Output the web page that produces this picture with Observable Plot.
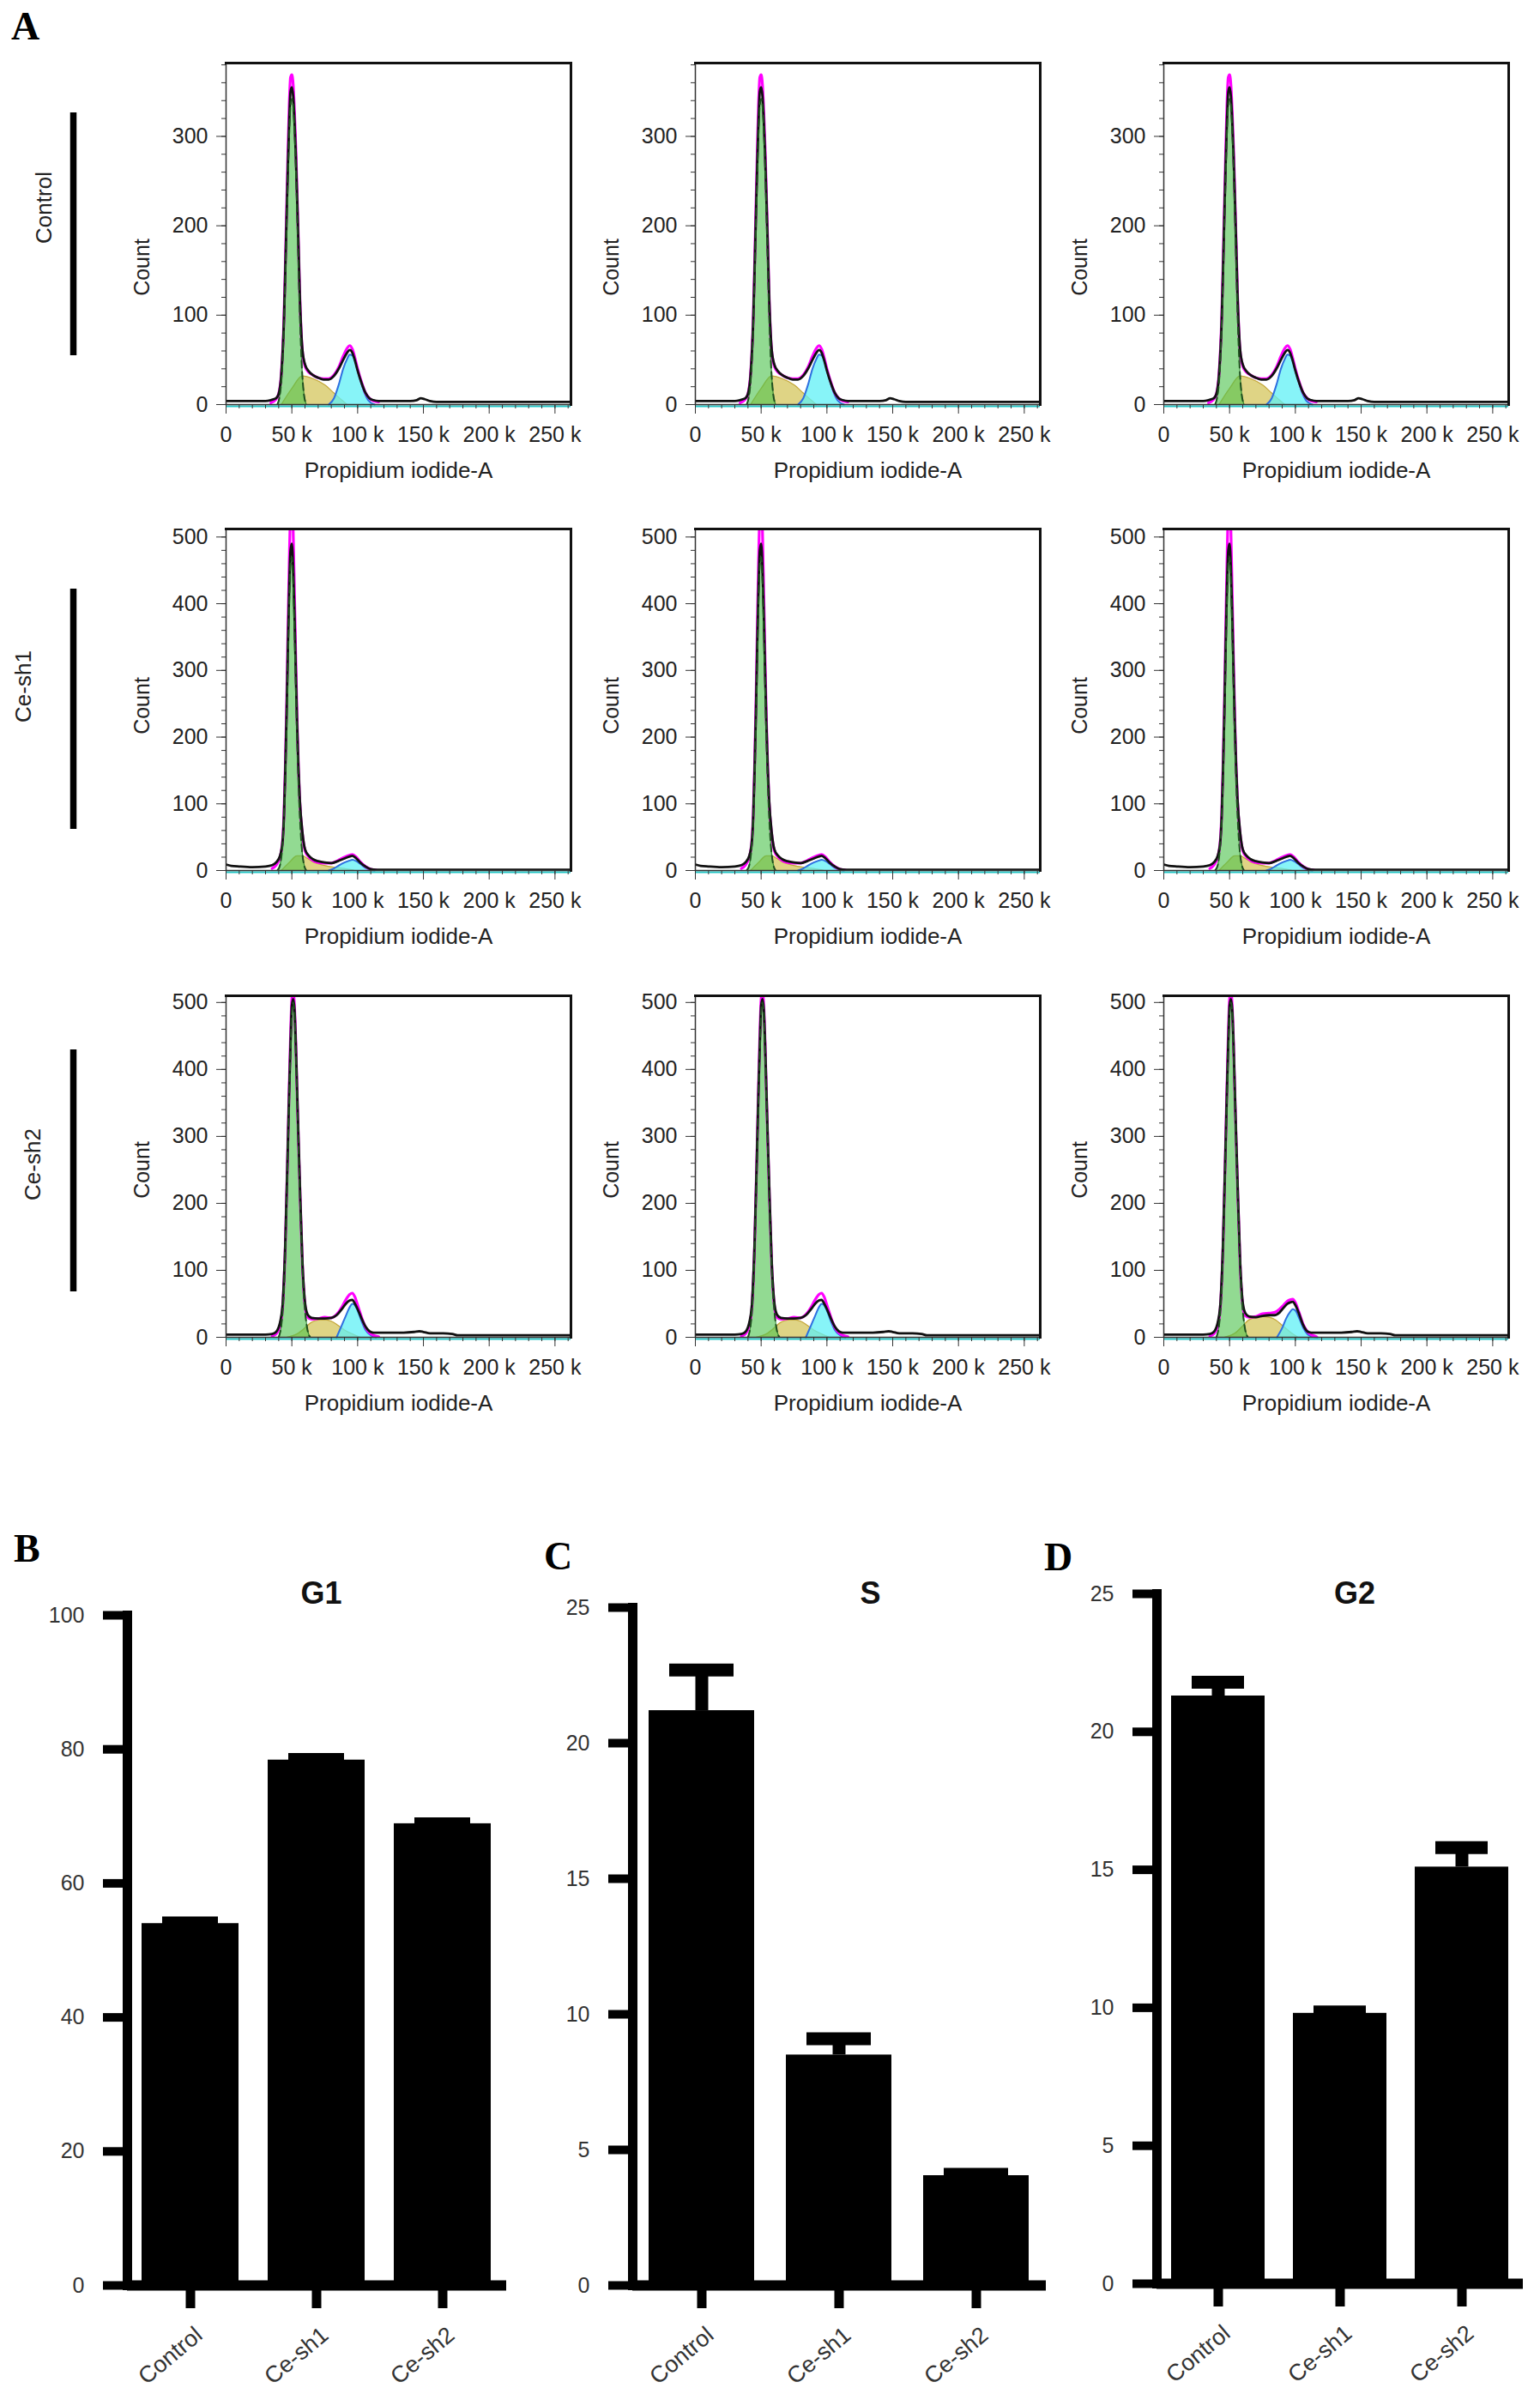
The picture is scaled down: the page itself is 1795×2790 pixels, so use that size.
<!DOCTYPE html>
<html>
<head>
<meta charset="utf-8">
<script src="https://cdn.jsdelivr.net/npm/d3@7"></script>
<script src="https://cdn.jsdelivr.net/npm/@observablehq/plot@0.6"></script>
<style>
  html, body { margin: 0; padding: 0; background: #fff; }
  #page { position: relative; width: 1795px; height: 2790px; overflow: hidden; }
  #page > svg { position: absolute; }
</style>
</head>
<body>
<div id="page"></div>
<script>
// ---- A: cell-cycle histograms (x = Propidium iodide-A in thousands, y = Count) ----
const xTicks = [0, 50, 100, 150, 200, 250];

// Control
const ctrlGrid  = [0, 10, 20, 30, 34, 38, 40, 42, 44, 45, 46, 47, 48, 49, 50, 51, 52, 53, 54, 55, 56, 58, 60, 63, 66, 70, 74, 78, 82, 86, 89, 92, 94, 96, 98, 100, 103, 106, 109, 112, 116, 120, 130, 140, 145, 148, 151, 155, 160, 170, 190, 210, 230, 250, 262];
const ctrlCount = [4, 4, 4, 4, 5, 7, 12, 34, 95, 150, 210, 268, 318, 350, 355, 345, 318, 280, 232, 180, 125, 62, 45, 37, 33, 30, 28, 28, 32, 41, 50, 58, 61, 58, 49, 38, 24, 13, 7, 5, 4, 4, 4, 4, 5, 7, 6, 4, 3, 3, 3, 3, 3, 3, 3];
const ctrlFit   = [null, null, null, null, 2, 6, 12, 35, 97, 155, 218, 280, 335, 366, 369, 358, 328, 288, 236, 182, 125, 60, 43, 36, 33, 30, 29, 29, 33, 43, 54, 63, 66, 62, 52, 40, 25, 13, 7, 4, 3, null, null, null, null, null, null, null, null, null, null, null, null, null, null];
const ctrlG1X = [39, 41, 42, 43, 44, 45, 46, 47, 48, 49, 50, 51, 52, 53, 54, 55, 56, 57, 58, 59, 61];
const ctrlG1  = [0, 12, 26, 50, 88, 140, 200, 255, 305, 335, 342, 335, 308, 268, 215, 160, 105, 62, 32, 14, 0];
const ctrlSX  = [42, 50, 58, 66, 75, 82, 88, 92];
const ctrlS   = [0, 18, 32, 29, 22, 13, 5, 0];
const ctrlG2X = [78, 82, 86, 89, 92, 94, 96, 99, 102, 105, 108, 113];
const ctrlG2  = [0, 7, 24, 40, 51, 56, 55, 45, 29, 14, 5, 0];

// Ce-sh1
const sh1Grid  = [0, 4, 10, 20, 30, 35, 38, 41, 43, 44, 45, 46, 47, 48, 49, 50, 51, 52, 53, 54, 55, 56, 58, 60, 63, 66, 70, 75, 80, 85, 90, 94, 96, 99, 102, 106, 110, 114, 120, 140, 170, 200, 230, 262];
const sh1Count = [9, 7, 6, 5, 6, 8, 12, 22, 45, 82, 150, 235, 335, 425, 480, 490, 455, 385, 300, 220, 155, 108, 58, 32, 22, 17, 14, 12, 11, 14, 18, 21, 22, 18, 12, 6, 2, 1, 1, 1, 1, 1, 1, 1];
const sh1Fit   = [null, null, null, null, null, 3, 8, 20, 46, 85, 155, 245, 355, 460, 535, 548, 510, 415, 315, 225, 155, 105, 55, 30, 20, 15, 12, 11, 11, 15, 20, 23, 24, 20, 13, 6, 2, 1, null, null, null, null, null, null];
const sh1G1X = [39, 41, 42, 43, 44, 45, 46, 47, 48, 49, 50, 51, 52, 53, 54, 55, 56, 57, 58, 59, 61];
const sh1G1  = [0, 8, 20, 40, 78, 138, 218, 315, 405, 460, 470, 435, 365, 280, 200, 135, 85, 48, 25, 11, 0];
const sh1SX  = [42, 48, 54, 58, 62, 66, 70, 76, 82, 90, 98];
const sh1S   = [0, 12, 22, 22, 18, 13, 10, 7, 5, 3, 0];
const sh1G2X = [78, 82, 86, 90, 94, 96, 99, 102, 106, 110, 113];
const sh1G2  = [0, 3, 8, 12, 15, 16, 14, 10, 4, 1, 0];

// Ce-sh2 (replicates 1 and 2)
const sh2Grid  = [0, 10, 20, 30, 35, 38, 41, 43, 45, 47, 48, 49, 50, 51, 52, 53, 54, 55, 56, 58, 60, 62, 65, 70, 75, 80, 84, 88, 91, 94, 96, 98, 100, 103, 106, 109, 112, 116, 125, 135, 143, 147, 150, 155, 165, 172, 176, 185, 210, 240, 262];
const sh2Count = [4, 4, 4, 4, 5, 8, 22, 50, 140, 290, 370, 440, 495, 505, 490, 440, 370, 300, 235, 115, 52, 34, 29, 28, 28, 29, 33, 42, 50, 55, 56, 50, 42, 28, 16, 9, 7, 7, 7, 7, 8, 9, 8, 6, 6, 5, 3, 3, 3, 3, 3];
const sh2Fit   = [null, null, null, null, 2, 5, 18, 45, 135, 290, 375, 450, 505, 515, 495, 440, 365, 295, 230, 110, 48, 30, 27, 28, 30, 29, 34, 45, 56, 64, 66, 60, 48, 30, 15, 7, 3, 1, null, null, null, null, null, null, null, null, null, null, null, null, null];
const sh2G1X = [40, 42, 43, 44, 45, 46, 47, 48, 49, 50, 51, 52, 53, 54, 55, 56, 57, 58, 59, 60, 62, 64];
const sh2G1  = [0, 18, 38, 70, 130, 200, 280, 360, 430, 485, 500, 485, 430, 360, 290, 225, 160, 105, 65, 40, 10, 0];
const sh2SX  = [46, 54, 60, 64, 68, 72, 76, 80, 85, 90, 96, 102];
const sh2S   = [0, 5, 14, 21, 25, 26, 26, 24, 18, 11, 5, 0];
const sh2G2X = [84, 88, 91, 94, 96, 98, 100, 103, 106, 110, 114];
const sh2G2  = [0, 18, 32, 45, 50, 48, 40, 24, 11, 3, 0];

// Ce-sh2 (replicate 3)
const sh2bCount = [4, 4, 4, 4, 5, 8, 22, 50, 140, 290, 370, 440, 495, 505, 490, 440, 370, 300, 235, 115, 52, 36, 31, 30, 32, 33, 33, 37, 44, 50, 52, 53, 48, 34, 18, 9, 7, 7, 7, 7, 8, 9, 8, 6, 6, 5, 3, 3, 3, 3, 3];
const sh2bFit   = [null, null, null, null, 2, 5, 18, 45, 135, 290, 375, 450, 505, 515, 495, 440, 365, 295, 230, 110, 48, 32, 30, 31, 35, 36, 37, 42, 48, 54, 56, 57, 52, 36, 19, 9, 4, 1, null, null, null, null, null, null, null, null, null, null, null, null, null];
const sh2bSX  = [46, 54, 60, 64, 68, 72, 76, 80, 85, 90, 96, 102];
const sh2bS   = [0, 6, 17, 25, 29, 31, 31, 30, 26, 18, 8, 0];
const sh2bG2X = [86, 90, 93, 96, 98, 100, 103, 106, 109, 113, 117];
const sh2bG2  = [0, 14, 28, 38, 42, 40, 28, 14, 5, 1, 0];

// ---- B-D: phase percentages ----
const groups = ["Control", "Ce-sh1", "Ce-sh2"];
const g1Mean = [54.0, 78.4, 68.9];
const g1Err  = [54.1, 78.5, 68.9];
const sMean  = [21.2, 8.5, 4.05];
const sErr   = [22.7, 9.1, 4.1];
const g2Mean = [21.3, 9.8, 15.1];
const g2Err  = [21.8, 9.85, 15.8];

const page = document.getElementById("page");
const sans = '"Liberation Sans", Arial, Helvetica, sans-serif';
const pts = (xs, ys) => xs.map((x, i) => ({x, y: ys[i]}));

function histogram(set, ymax, countDy) {
  const trace = set.grid.map((x, i) => ({x, count: set.count[i], fit: set.fit[i]}));
  const G1 = pts(set.g1x, set.g1), S = pts(set.sx, set.s), G2 = pts(set.g2x, set.g2);
  const c = "monotone-x";
  return Plot.plot({
    width: 532, height: 508,
    marginLeft: 120, marginRight: 10, marginTop: 10, marginBottom: 100,
    x: {domain: [0, 262.144]},
    y: {domain: [0, ymax]},
    style: {fontFamily: sans, fontSize: "25px", color: "#222", background: "transparent", overflow: "visible"},
    marks: [
      Plot.areaY(S, {x: "x", y: "y", curve: c, fill: "#d4c65c", fillOpacity: 0.75}),
      Plot.lineY(S, {x: "x", y: "y", curve: c, stroke: "#c4a63a", strokeWidth: 1.2}),
      Plot.areaY(G2, {x: "x", y: "y", curve: c, fill: "#5ff0f5", fillOpacity: 0.75}),
      Plot.lineY(G2, {x: "x", y: "y", curve: c, stroke: "#2f6fe0", strokeWidth: 2}),
      Plot.areaY(G1, {x: "x", y: "y", curve: c, fill: "#4fc44f", fillOpacity: 0.62}),
      Plot.lineY(G1, {x: "x", y: "y", curve: c, stroke: "#2e8b2e", strokeWidth: 1.2}),
      Plot.lineY(trace, {x: "x", y: "fit", curve: c, stroke: "#ff00ff", strokeWidth: 3.2, clip: true}),
      Plot.lineY(trace, {x: "x", y: "count", curve: c, stroke: "#111", strokeWidth: 2.8, clip: true}),
      Plot.lineY(G1, {x: "x", y: "y", curve: c, stroke: "#1f4f1f", strokeWidth: 2, strokeDasharray: "8,5", clip: true}),
      Plot.ruleY([0], {stroke: "#22c4c4", strokeWidth: 2, dy: 2}),
      Plot.frame({stroke: "#333", strokeWidth: 1.5}),
      Plot.frame({anchor: "top", stroke: "#111", strokeWidth: 3}),
      Plot.frame({anchor: "right", stroke: "#111", strokeWidth: 3}),
      Plot.axisX({ticks: d3.range(0, 261, 10), tickSize: 5, tickFormat: () => "", label: null, stroke: "#333"}),
      Plot.axisX({ticks: xTicks, tickSize: 11, tickPadding: 15, tickFormat: d => d === 0 ? "0" : `${d} k`, label: null, stroke: "#333"}),
      Plot.axisY({ticks: d3.range(0, ymax, 20), tickSize: 5, tickFormat: () => "", label: null, stroke: "#333"}),
      Plot.axisY({ticks: d3.range(0, ymax, 100), tickSize: 11, tickPadding: 10, label: null, stroke: "#333"}),
      Plot.text(["Count"], {frameAnchor: "left", rotate: -90, textAnchor: "middle", lineAnchor: "middle", dx: -98, dy: countDy}),
      Plot.text(["Propidium iodide-A"], {frameAnchor: "bottom", textAnchor: "middle", lineAnchor: "middle", dy: 77, fontSize: 26})
    ]
  });
}

const ctrlSet = {grid: ctrlGrid, count: ctrlCount, fit: ctrlFit, g1x: ctrlG1X, g1: ctrlG1, sx: ctrlSX, s: ctrlS, g2x: ctrlG2X, g2: ctrlG2};
const sh1Set  = {grid: sh1Grid, count: sh1Count, fit: sh1Fit, g1x: sh1G1X, g1: sh1G1, sx: sh1SX, s: sh1S, g2x: sh1G2X, g2: sh1G2};
const sh2Set  = {grid: sh2Grid, count: sh2Count, fit: sh2Fit, g1x: sh2G1X, g1: sh2G1, sx: sh2SX, s: sh2S, g2x: sh2G2X, g2: sh2G2};
const sh2bSet = {grid: sh2Grid, count: sh2bCount, fit: sh2bFit, g1x: sh2G1X, g1: sh2G1, sx: sh2bSX, s: sh2bS, g2x: sh2bG2X, g2: sh2bG2};

const colLeft = [263, 810, 1356];
const rowTop = [73, 616, 1160];
const panelRows = [
  {ymax: 382, countDy: 39, sets: [ctrlSet, ctrlSet, ctrlSet]},
  {ymax: 512, countDy: 7, sets: [sh1Set, sh1Set, sh1Set]},
  {ymax: 510, countDy: 4, sets: [sh2Set, sh2Set, sh2bSet]}
];

panelRows.forEach((row, r) => {
  row.sets.forEach((set, c) => {
    const svg = histogram(set, row.ymax, row.countDy);
    svg.style.left = (colLeft[c] - 120) + "px";
    svg.style.top = (rowTop[r] - 10) + "px";
    page.append(svg);
  });
});

function barChart(o) {
  const rows = groups.map((group, i) => ({group, mean: o.mean[i], err: o.err[i]}));
  const svg = Plot.plot({
    width: o.width, height: 1023,
    marginLeft: o.ml, marginRight: o.mr, marginTop: o.mt, marginBottom: o.mb,
    x: {domain: groups, paddingInner: 0.23, paddingOuter: 0.115},
    y: {domain: [0, o.ymax]},
    style: {fontFamily: sans, fontSize: "25px", color: "#333", background: "transparent", overflow: "visible"},
    marks: [
      Plot.barY(rows, {x: "group", y: "mean", fill: "#000"}),
      Plot.ruleX(rows, {x: "group", y1: "mean", y2: "err", stroke: "#000", strokeWidth: 15}),
      Plot.tickY(rows, {x: "group", y: "err", stroke: "#000", strokeWidth: 15, insetLeft: 24, insetRight: 24}),
      Plot.ruleY([0], {stroke: "#000", strokeWidth: 12}),
      Plot.frame({anchor: "left", stroke: "#000", strokeWidth: 11, strokeLinecap: "square"}),
      Plot.axisY({ticks: o.ticks, tickSize: 28, tickPadding: 22, stroke: "#000", strokeWidth: 10, label: null}),
      Plot.axisX({tickSize: 27, tickFormat: () => "", stroke: "#000", strokeWidth: 11, label: null}),
      Plot.text(rows, {x: "group", text: "group", frameAnchor: "bottom", rotate: -40, textAnchor: "end", lineAnchor: "middle",
        dx: 10, dy: 54, fontSize: 27, fill: "#333"}),
      Plot.text([o.title], {frameAnchor: "top", lineAnchor: "middle", textAnchor: "middle", dx: o.tdx, dy: o.tdy,
        fontSize: 36, fontWeight: "bold", fill: "#111"})
    ]
  });
  svg.style.left = o.left + "px";
  svg.style.top = "1760px";
  page.append(svg);
}

barChart({title: "G1", mean: g1Mean, err: g1Err, ymax: 100, ticks: [0, 20, 40, 60, 80, 100],
  left: 0, width: 610, ml: 148, mr: 20, mt: 122, mb: 120, tdx: 5, tdy: -25});
barChart({title: "S", mean: sMean, err: sErr, ymax: 25, ticks: [0, 5, 10, 15, 20, 25],
  left: 600, width: 637, ml: 137, mr: 18, mt: 113, mb: 120, tdx: 36, tdy: -16});
barChart({title: "G2", mean: g2Mean, err: g2Err, ymax: 25, ticks: [0, 5, 10, 15, 20, 25],
  left: 1210, width: 585, ml: 138, mr: 20, mt: 97, mb: 122, tdx: 17, tdy: 0});

// panel letters and row labels
const deco = d3.select(page).append("svg")
  .attr("width", 1795).attr("height", 2790)
  .style("left", "0px").style("top", "0px").style("pointer-events", "none");

const letters = [["A", 13, 46], ["B", 16, 1820], ["C", 634, 1829], ["D", 1217, 1830]];
deco.selectAll("text.letter").data(letters).join("text")
  .attr("class", "letter")
  .attr("x", d => d[1]).attr("y", d => d[2])
  .attr("font-family", '"Liberation Serif", "Times New Roman", serif')
  .attr("font-weight", "bold").attr("font-size", 46)
  .text(d => d[0]);

const rowLabels = [["Control", 51, 242, 131, 414], ["Ce-sh1", 27, 800, 686, 966], ["Ce-sh2", 38, 1357, 1223, 1505]];
deco.selectAll("text.row").data(rowLabels).join("text")
  .attr("class", "row")
  .attr("transform", d => `translate(${d[1]},${d[2]}) rotate(-90)`)
  .attr("text-anchor", "middle").attr("dy", "0.35em")
  .attr("font-family", sans).attr("font-size", 26).attr("fill", "#222")
  .text(d => d[0]);
deco.selectAll("line.row").data(rowLabels).join("line")
  .attr("class", "row")
  .attr("x1", 85.5).attr("x2", 85.5)
  .attr("y1", d => d[3]).attr("y2", d => d[4])
  .attr("stroke", "#000").attr("stroke-width", 7.5);
</script>
</body>
</html>
